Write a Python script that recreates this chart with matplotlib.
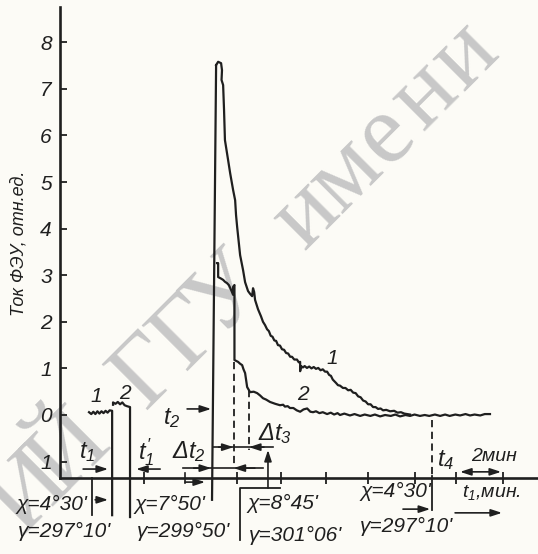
import numpy as np
import matplotlib.pyplot as plt

plt.rcParams['font.family'] = ['Liberation Sans', 'DejaVu Sans']
plt.rcParams['font.style'] = 'italic'
plt.rcParams['mathtext.fontset'] = 'custom'
plt.rcParams['mathtext.it'] = 'Liberation Sans:italic'
plt.rcParams['mathtext.rm'] = 'Liberation Sans:italic'

# axis ticks (time in minutes, current in relative units)
Y_TICKS = [-1, 0, 1, 2, 3, 4, 5, 6, 7, 8]
Y_TICK_LABELS = ['1', '0', '1', '2', '3', '4', '5', '6', '7', '8']
X_TICKS = [3.71, 7.81, 9.76, 11.74, 13.60, 15.67, 17.48, 19.56]
X_AXIS_Y = -1.35
Y_AXIS_TOP = 8.76

# pulse rise shared by both curves
RISE = [(6.71, -1.82), (6.89, 7.51)]

# curve 1 (t, y)
CURVE1 = [(6.89, 7.51), (6.98, 7.58), (7.11, 7.55), (7.15, 7.40), (7.13, 7.19),
          (7.20, 7.08), (7.24, 6.55), (7.28, 5.90), (7.42, 5.47), (7.51, 5.19),
          (7.64, 4.83), (7.73, 4.61), (7.77, 4.29), (7.82, 4.03), (7.95, 3.43),
          (8.08, 3.11), (8.17, 2.85), (8.30, 2.66), (8.39, 2.60), (8.48, 2.55),
          (8.52, 2.72), (8.57, 2.64), (8.61, 2.47), (8.74, 2.27), (8.87, 2.12),
          (8.96, 2.00), (9.05, 1.93), (9.14, 1.84), (9.22, 1.80), (9.30, 1.70),
          (9.38, 1.68), (9.46, 1.60), (9.54, 1.59), (9.62, 1.50), (9.71, 1.49),
          (9.80, 1.41), (9.89, 1.40), (9.98, 1.33), (10.07, 1.32), (10.16, 1.25),
          (10.24, 1.25), (10.34, 1.19), (10.46, 1.19), (10.54, 1.13), (10.60, 1.14),
          (10.60, 0.94), (10.64, 1.05), (10.72, 1.02), (10.80, 1.05), (10.90, 1.01),
          (11.00, 1.04), (11.10, 1.00), (11.20, 1.03), (11.30, 0.99), (11.40, 1.01),
          (11.50, 0.96), (11.60, 0.98), (11.70, 0.93), (11.79, 0.93), (11.88, 0.86),
          (11.96, 0.84), (12.04, 0.76), (12.10, 0.73), (12.18, 0.69), (12.27, 0.64),
          (12.36, 0.63), (12.49, 0.58), (12.60, 0.58), (12.72, 0.53), (12.83, 0.54),
          (12.94, 0.48), (13.05, 0.47), (13.16, 0.40), (13.27, 0.38), (13.38, 0.31),
          (13.49, 0.29), (13.60, 0.23), (13.71, 0.23), (13.82, 0.17), (13.93, 0.17),
          (14.04, 0.13), (14.15, 0.14), (14.26, 0.10), (14.40, 0.11), (14.57, 0.08),
          (14.75, 0.09), (14.90, 0.05), (15.05, 0.06), (15.20, 0.03), (15.45, 0.01)]

# curve 2 (t, y)
CURVE2 = [(6.93, 3.26), (6.98, 3.26), (6.98, 2.96), (7.10, 2.93), (7.20, 2.90),
          (7.28, 2.86), (7.37, 2.83), (7.45, 2.79), (7.51, 2.73), (7.59, 2.64),
          (7.64, 2.58), (7.64, 2.75), (7.70, 2.79), (7.70, 1.18), (7.78, 1.16),
          (7.86, 1.14), (7.95, 1.10), (8.04, 1.07), (8.10, 0.98), (8.17, 0.90),
          (8.26, 0.60), (8.39, 0.49), (8.55, 0.50), (8.70, 0.47), (8.83, 0.42),
          (8.96, 0.36), (9.10, 0.33), (9.27, 0.28), (9.50, 0.24), (9.71, 0.21),
          (9.85, 0.22), (9.93, 0.18), (10.05, 0.19), (10.15, 0.15), (10.30, 0.15),
          (10.45, 0.10), (10.60, 0.07), (10.75, 0.12), (10.91, 0.14), (11.05, 0.07),
          (11.17, 0.06), (11.30, 0.08), (11.45, 0.04), (11.60, 0.06), (11.79, 0.02),
          (11.95, 0.05), (12.10, 0.01), (12.25, 0.04), (12.36, 0.00), (12.55, 0.03),
          (12.80, -0.01), (13.00, 0.02), (13.25, -0.02), (13.45, 0.01), (13.70, -0.02),
          (13.90, 0.01), (14.13, -0.03), (14.35, 0.00), (14.60, -0.02), (14.80, 0.01),
          (15.01, -0.03), (15.25, 0.00), (15.45, -0.02), (15.65, 0.01), (15.89, -0.02),
          (16.10, 0.00), (16.30, -0.02), (16.55, 0.01), (16.78, -0.02), (17.00, 0.01),
          (17.20, -0.02), (17.45, 0.01), (17.66, -0.01), (17.90, 0.02), (18.10, -0.01),
          (18.30, 0.01), (18.55, -0.01), (18.75, 0.02), (18.98, 0.02)]

# small reference pulses 1 and 2
PULSE1 = [(1.28, 0.06), (1.38, 0.02), (1.47, 0.07), (1.56, 0.02), (1.65, 0.08),
          (1.74, 0.03), (1.83, 0.08), (1.92, 0.04), (2.01, 0.09), (2.10, 0.05),
          (2.19, 0.10), (2.30, 0.09), (2.30, -2.15)]
PULSE2 = [(2.34, 0.22), (2.34, 0.27), (2.45, 0.24), (2.55, 0.28), (2.65, 0.23),
          (2.75, 0.27), (2.85, 0.21), (2.95, 0.19), (3.09, 0.17), (3.09, -2.19)]

INK = '#1f1f1f'
PAPER = '#fcfbf6'

fig = plt.figure(figsize=(5.38, 5.54), dpi=100)
fig.patch.set_facecolor(PAPER)
ax = fig.add_axes([0, 0, 1, 1])
ax.set_facecolor(PAPER)
ax.set_xlim(-2.65, 21.10)
ax.set_ylim(-2.983, 8.906)

# watermark, letter by letter along a 45 degree line
wm = "РЕПОЗИТОРИЙ ГГУ имени Ф. Скорины"
step = 56
c = np.cos(np.radians(45))
for i, ch in enumerate(wm):
    px = 165 + (i - 12) * step * c
    py = 390 - (i - 12) * step * c
    if not (-10 < px < 560 and -25 < py < 540):
        continue
    ax.text(px / 538, 1 - py / 554, ch, transform=ax.transAxes, rotation=45,
            rotation_mode='anchor', ha='center', va='baseline',
            fontsize=72, family='Liberation Serif', style='normal',
            color='#c8c8c8', zorder=0, clip_on=True)

# axes
for s in ['top', 'right']:
    ax.spines[s].set_visible(False)
ax.spines['left'].set_position(('data', 0))
ax.spines['left'].set_bounds(X_AXIS_Y, Y_AXIS_TOP)
ax.spines['bottom'].set_position(('data', X_AXIS_Y))
ax.spines['bottom'].set_bounds(0, 21.1)
for s in ['left', 'bottom']:
    ax.spines[s].set_linewidth(1.9)
    ax.spines[s].set_color(INK)
ax.set_yticks(Y_TICKS, Y_TICK_LABELS)
ax.set_xticks(X_TICKS, [])
ax.tick_params(axis='y', direction='in', length=5, width=1.3, pad=6,
               labelsize=15, colors=INK)
ax.tick_params(axis='x', direction='inout', length=9, width=1.3, colors=INK)

ax.text(-1.80, 3.69, 'Ток ФЭУ, отн.ед.', rotation=90, ha='center', va='center',
        fontsize=13, color=INK)

# curves
lw = 1.6
for seg in [RISE, CURVE1, CURVE2, PULSE1, PULSE2]:
    t, y = np.array(seg).T
    ax.plot(t, y, color=INK, lw=lw, zorder=3)

# curve labels
for t, y, s in [(1.59, 0.39, '1'), (2.87, 0.47, '2'), (12.01, 1.22, '1'), (10.73, 0.43, '2')]:
    ax.text(t, y, s, ha='center', va='center', fontsize=15, color=INK)

# auxiliary lines
dash = (0, (4, 2.5))
ax.plot([7.66, 7.66], [1.14, -1.12], color=INK, lw=1.3, ls=dash)
ax.plot([8.34, 8.34], [0.54, -0.75], color=INK, lw=1.3, ls=dash)
ax.plot([16.42, 16.42], [-0.11, -1.30], color=INK, lw=1.3, ls=dash)
ax.plot([16.42, 16.42], [-1.30, -2.04], color=INK, lw=1.3)
ax.plot([1.41, 1.41], [-1.35, -2.15], color=INK, lw=1.3)
ax.plot([7.95, 7.95, 9.71], [-2.68, -1.57, -1.57], color=INK, lw=1.3)
ax.plot([5.52, 5.52], [-1.24, -1.46], color=INK, lw=1.2)
ax.plot([5.43, 8.96], [-1.14, -1.14], color=INK, lw=1.2)
ax.plot([6.75, 9.40], [-0.69, -0.69], color=INK, lw=1.2)


def arrow(x0, y0, x1, y1, style='-|>'):
    ax.annotate('', xy=(x1, y1), xytext=(x0, y0),
                arrowprops=dict(arrowstyle=style + ',head_length=0.55,head_width=0.18',
                                color=INK, lw=1.2, shrinkA=0, shrinkB=0,
                                mutation_scale=12))


arrow(5.61, 0.13, 6.67, 0.13)      # t2
arrow(1.02, -1.16, 2.12, -1.16)    # t1
arrow(4.42, -1.16, 3.36, -1.16)    # t1'
arrow(5.90, -1.14, 6.67, -1.14)    # dt2
arrow(8.60, -1.14, 7.66, -1.14)
arrow(7.00, -0.69, 7.66, -0.69)    # dt3
arrow(9.00, -0.69, 8.34, -0.69)
arrow(9.18, -1.57, 9.18, -0.75)
arrow(5.52, -1.44, 6.40, -1.44)
arrow(1.55, -1.82, 2.12, -1.82)
arrow(15.14, -2.02, 16.34, -2.02)
arrow(17.44, -2.10, 19.51, -2.10)
arrow(17.66, -1.22, 19.47, -1.22, style='<|-|>')

fs = 17
ax.text(4.94, -0.06, r'$t_2$', ha='center', va='center', fontsize=fs, color=INK)
ax.text(1.19, -0.79, r'$t_1$', ha='center', va='center', fontsize=fs, color=INK)
ax.text(3.80, -0.79, r"$t_1'$", ha='center', va='center', fontsize=fs, color=INK)
ax.text(5.70, -0.79, r'$\Delta t_2$', ha='center', va='center', fontsize=fs, color=INK)
ax.text(9.50, -0.40, r'$\Delta t_3$', ha='center', va='center', fontsize=fs, color=INK)
ax.text(16.65, -0.97, r'$t_4$', ha='left', va='center', fontsize=fs, color=INK)
ax.text(19.16, -0.88, '2мин', ha='center', va='center', fontsize=14, color=INK)
ax.text(19.03, -1.67, r'$t_1$,мин.', ha='center', va='center', fontsize=14, color=INK)

lab = 15
ax.text(-1.90, -1.93, "χ=4°30'", ha='left', va='center', fontsize=lab, color=INK)
ax.text(-1.85, -2.51, "γ=297°10'", ha='left', va='center', fontsize=lab, color=INK)
ax.text(3.31, -1.93, "χ=7°50'", ha='left', va='center', fontsize=lab, color=INK)
ax.text(3.40, -2.51, "γ=299°50'", ha='left', va='center', fontsize=lab, color=INK)
ax.text(8.26, -1.89, "χ=8°45'", ha='left', va='center', fontsize=lab, color=INK)
ax.text(8.34, -2.58, "γ=301°06'", ha='left', va='center', fontsize=lab, color=INK)
ax.text(13.25, -1.65, "χ=4°30'", ha='left', va='center', fontsize=lab, color=INK)
ax.text(13.25, -2.40, "γ=297°10'", ha='left', va='center', fontsize=lab, color=INK)

fig.savefig('out.png', dpi=100, facecolor=PAPER)
